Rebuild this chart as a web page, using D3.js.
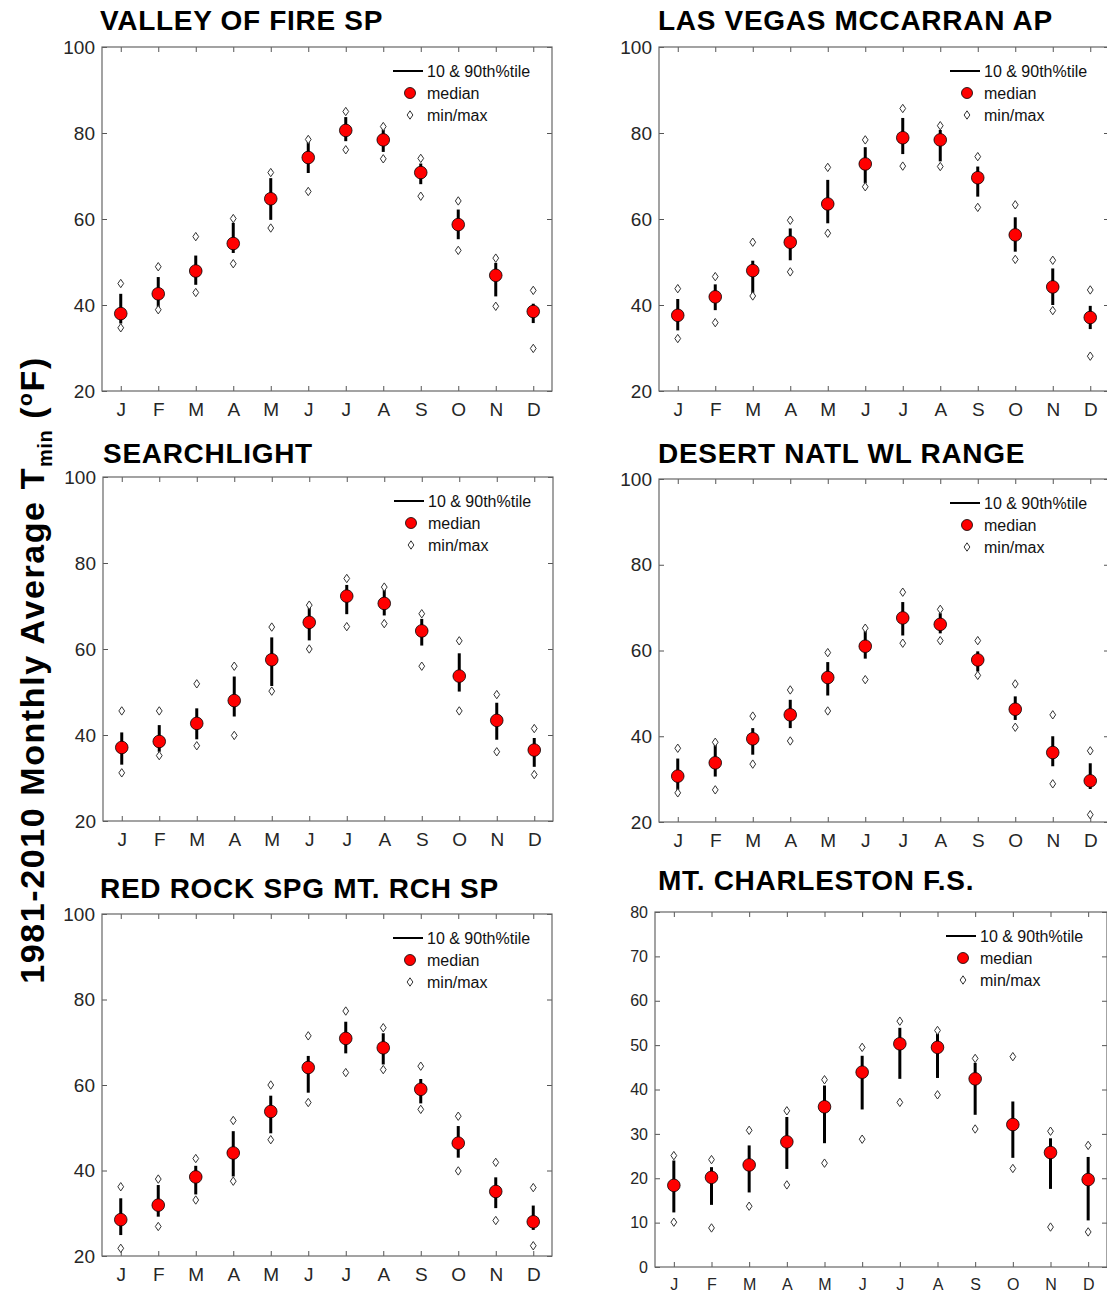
<!DOCTYPE html>
<html>
<head>
<meta charset="utf-8">
<script src="https://cdn.jsdelivr.net/npm/d3@7"></script>
<style>
	body { margin: 0; background: #fff; }
	text { font-family: "Liberation Sans", Arial, Helvetica, sans-serif; }
</style>
</head>
<body>
<div id="chart"></div>
<script>
// month labels (x categories)
var months = ["J","F","M","A","M","J","J","A","S","O","N","D"];

// station titles
var stationNames = ["VALLEY OF FIRE SP", "LAS VEGAS MCCARRAN AP", "SEARCHLIGHT",
	"DESERT NATL WL RANGE", "RED ROCK SPG MT. RCH SP", "MT. CHARLESTON F.S."];

// VALLEY OF FIRE SP
var valleyMedian = [38.0, 42.6, 47.9, 54.3, 64.7, 74.3, 80.6, 78.4, 70.8, 58.7, 46.9, 38.5];
var valleyP90    = [42.6, 46.5, 51.5, 59.1, 69.5, 77.9, 83.7, 80.8, 72.9, 62.2, 49.8, 40.3];
var valleyP10    = [35.7, 39.5, 44.7, 52.1, 59.8, 70.7, 78.1, 75.6, 68.1, 55.3, 42.0, 35.8];
var valleyMax    = [45.0, 48.9, 55.9, 60.1, 70.8, 78.5, 85.0, 81.5, 74.1, 64.2, 50.9, 43.4];
var valleyMin    = [34.7, 38.9, 42.9, 49.6, 57.9, 66.4, 76.1, 74.0, 65.3, 52.7, 39.7, 29.9];

// LAS VEGAS MCCARRAN AP
var vegasMedian = [37.6, 41.9, 48.0, 54.6, 63.5, 72.8, 78.9, 78.4, 69.6, 56.3, 44.2, 37.1];
var vegasP90    = [41.4, 44.8, 50.3, 57.8, 69.1, 76.7, 83.5, 80.7, 72.2, 60.4, 48.5, 39.8];
var vegasP10    = [34.1, 38.8, 42.7, 50.4, 59.0, 68.3, 75.1, 73.4, 65.2, 52.4, 40.0, 34.4];
var vegasMax    = [43.8, 46.6, 54.6, 59.7, 72.0, 78.4, 85.7, 81.7, 74.5, 63.3, 50.4, 43.5];
var vegasMin    = [32.2, 35.9, 42.1, 47.7, 56.7, 67.5, 72.3, 72.2, 62.7, 50.6, 38.7, 28.1];

// SEARCHLIGHT
var searchMedian = [37.1, 38.5, 42.7, 48.0, 57.5, 66.2, 72.3, 70.6, 64.2, 53.7, 43.4, 36.5];
var searchP90    = [40.6, 42.3, 46.2, 53.6, 62.7, 69.9, 74.9, 73.8, 67.0, 59.0, 47.5, 39.3];
var searchP10    = [33.1, 36.1, 39.0, 44.3, 51.4, 62.0, 68.1, 67.8, 60.8, 50.1, 38.9, 32.6];
var searchMax    = [45.6, 45.6, 51.9, 56.0, 65.1, 70.2, 76.4, 74.4, 68.2, 61.9, 49.4, 41.5];
var searchMin    = [31.2, 35.2, 37.5, 39.9, 50.2, 60.0, 65.2, 65.9, 56.0, 45.6, 36.1, 30.8];

// DESERT NATL WL RANGE
var desertMedian = [30.7, 33.8, 39.4, 45.0, 53.7, 61.0, 67.6, 66.1, 57.8, 46.3, 36.2, 29.6];
var desertP90    = [34.8, 38.6, 41.9, 48.5, 57.3, 64.6, 71.3, 68.7, 59.8, 49.3, 40.0, 33.7];
var desertP10    = [27.5, 30.6, 35.7, 41.9, 49.5, 58.1, 63.5, 64.0, 55.1, 43.8, 33.0, 27.7];
var desertMax    = [37.2, 38.6, 44.7, 50.8, 59.5, 65.2, 73.6, 69.6, 62.3, 52.2, 45.0, 36.6];
var desertMin    = [26.8, 27.5, 33.5, 38.9, 45.9, 53.2, 61.7, 62.3, 54.2, 42.1, 28.9, 21.7];

// RED ROCK SPG MT. RCH SP
var redrockMedian = [28.5, 31.9, 38.5, 44.1, 53.8, 64.1, 70.9, 68.7, 59.0, 46.4, 35.1, 28.0];
var redrockP90    = [33.5, 36.6, 41.1, 49.2, 57.5, 66.8, 74.8, 72.1, 61.4, 50.4, 38.4, 31.8];
var redrockP10    = [24.9, 29.2, 34.4, 38.6, 48.7, 58.2, 67.4, 64.8, 55.7, 43.0, 31.2, 26.1];
var redrockMax    = [36.2, 38.0, 42.8, 51.7, 60.0, 71.5, 77.3, 73.4, 64.4, 52.7, 41.9, 36.0];
var redrockMin    = [21.8, 26.9, 33.1, 37.5, 47.2, 55.9, 62.9, 63.6, 54.3, 39.9, 28.3, 22.4];

// MT. CHARLESTON F.S.
var charlestonMedian = [18.4, 20.2, 23.0, 28.2, 36.1, 43.9, 50.3, 49.5, 42.4, 32.1, 25.8, 19.7];
var charlestonP90    = [24.0, 22.5, 27.4, 33.8, 40.9, 47.6, 53.9, 52.6, 46.0, 37.3, 29.0, 24.8];
var charlestonP10    = [12.3, 14.0, 16.8, 22.1, 27.9, 35.5, 42.4, 42.6, 34.3, 24.6, 17.6, 10.5];
var charlestonMax    = [25.1, 24.2, 30.8, 35.2, 42.2, 49.5, 55.4, 53.3, 47.0, 47.4, 30.6, 27.4];
var charlestonMin    = [10.1,  8.8, 13.7, 18.5, 23.4, 28.8, 37.1, 38.8, 31.1, 22.2,  9.0,  7.9];

// y tick labels
var yTicksWarm = [20, 40, 60, 80, 100];
var yTicksCold = [0, 10, 20, 30, 40, 50, 60, 70, 80];

var legendLabels = ["10 & 90th%tile", "median", "min/max"];

// panel layout
var panels = [
	{name: stationNames[0], med: valleyMedian, p90: valleyP90, p10: valleyP10, mx: valleyMax, mn: valleyMin,
		left: 102, top: 47, w: 450, h: 344, dom: [20, 100], ticks: yTicksWarm, tx: 100, ty: 30, fs: 19},
	{name: stationNames[1], med: vegasMedian, p90: vegasP90, p10: vegasP10, mx: vegasMax, mn: vegasMin,
		left: 659, top: 47, w: 450, h: 344, dom: [20, 100], ticks: yTicksWarm, tx: 658, ty: 30, fs: 19},
	{name: stationNames[2], med: searchMedian, p90: searchP90, p10: searchP10, mx: searchMax, mn: searchMin,
		left: 103, top: 477, w: 450, h: 344, dom: [20, 100], ticks: yTicksWarm, tx: 103, ty: 463, fs: 19},
	{name: stationNames[3], med: desertMedian, p90: desertP90, p10: desertP10, mx: desertMax, mn: desertMin,
		left: 659, top: 479, w: 450, h: 343, dom: [20, 100], ticks: yTicksWarm, tx: 658, ty: 463, fs: 19},
	{name: stationNames[4], med: redrockMedian, p90: redrockP90, p10: redrockP10, mx: redrockMax, mn: redrockMin,
		left: 102, top: 914, w: 450, h: 342, dom: [20, 100], ticks: yTicksWarm, tx: 100, ty: 898, fs: 19},
	{name: stationNames[5], med: charlestonMedian, p90: charlestonP90, p10: charlestonP10, mx: charlestonMax, mn: charlestonMin,
		left: 655, top: 912, w: 452, h: 355, dom: [0, 80], ticks: yTicksCold, tx: 658, ty: 890, fs: 16}
];

var svg = d3.select("#chart")
	.append("svg")
		.attr("width", 1107)
		.attr("height", 1293);

// tall narrow diamond
var diamond = "M0,-4.2L2.9,0L0,4.2L-2.9,0Z";

function drawPanel(p) {
	var g = svg.append("g")
		.attr("transform", "translate(" + p.left + "," + p.top + ")");

	var x = d3.scaleLinear().domain([0.5, 12.5]).range([0, p.w]);
	var y = d3.scaleLinear().domain(p.dom).range([p.h, 0]);
	var idx = d3.range(12);

	// axes (ticks point inward, on all four sides)
	var xb = g.append("g")
		.attr("transform", "translate(0," + p.h + ")")
		.call(d3.axisBottom(x).tickValues(d3.range(1, 13))
			.tickFormat(function(d) { return months[d - 1]; })
			.tickSizeInner(-5).tickSizeOuter(0).tickPadding(12));
	var xt = g.append("g")
		.call(d3.axisTop(x).tickValues(d3.range(1, 13)).tickFormat("")
			.tickSizeInner(-5).tickSizeOuter(0));
	var yl = g.append("g")
		.call(d3.axisLeft(y).tickValues(p.ticks).tickFormat(d3.format("d"))
			.tickSizeInner(-5).tickSizeOuter(0).tickPadding(7));
	var yr = g.append("g")
		.attr("transform", "translate(" + p.w + ",0)")
		.call(d3.axisRight(y).tickValues(p.ticks).tickFormat("")
			.tickSizeInner(-5).tickSizeOuter(0));

	[xb, xt, yl, yr].forEach(function(a) {
		a.select(".domain").remove();
		a.selectAll(".tick line").attr("stroke", "#555");
		a.selectAll("text")
			.attr("font-size", p.fs + "px")
			.attr("font-family", "'Liberation Sans', Arial, sans-serif")
			.attr("fill", "#262626");
	});

	// frame
	g.append("rect")
		.attr("width", p.w)
		.attr("height", p.h)
		.attr("fill", "none")
		.attr("stroke", "#666")
		.attr("stroke-width", 1.2);

	// 10-90th percentile bars
	g.selectAll(".bar")
		.data(idx)
		.enter()
		.append("line")
			.attr("class", "bar")
			.attr("x1", function(i) { return x(i + 1); })
			.attr("x2", function(i) { return x(i + 1); })
			.attr("y1", function(i) { return y(p.p10[i]); })
			.attr("y2", function(i) { return y(p.p90[i]); })
			.attr("stroke", "#000")
			.attr("stroke-width", 3);

	// min and max diamonds
	[p.mx, p.mn].forEach(function(vals) {
		g.selectAll(null)
			.data(idx)
			.enter()
			.append("path")
				.attr("d", diamond)
				.attr("transform", function(i) { return "translate(" + x(i + 1) + "," + y(vals[i]) + ")"; })
				.attr("fill", "#fff")
				.attr("stroke", "#333")
				.attr("stroke-width", 1);
	});

	// medians
	g.selectAll(".med")
		.data(idx)
		.enter()
		.append("circle")
			.attr("class", "med")
			.attr("cx", function(i) { return x(i + 1); })
			.attr("cy", function(i) { return y(p.med[i]); })
			.attr("r", 6.3)
			.attr("fill", "#ff0000")
			.attr("stroke", "#000")
			.attr("stroke-width", 0.8);

	// legend
	var lg = g.append("g").attr("transform", "translate(291,24)");
	lg.append("line")
		.attr("x1", 0).attr("x2", 30)
		.attr("stroke", "#000").attr("stroke-width", 2);
	lg.append("circle")
		.attr("cx", 17).attr("cy", 22).attr("r", 5.5)
		.attr("fill", "#ff0000").attr("stroke", "#000").attr("stroke-width", 0.8);
	lg.append("path")
		.attr("d", diamond)
		.attr("transform", "translate(17,44)")
		.attr("fill", "#fff").attr("stroke", "#333");
	lg.selectAll(".lab")
		.data(legendLabels)
		.enter()
		.append("text")
			.attr("class", "lab")
			.attr("x", 34)
			.attr("y", function(d, i) { return i * 22 + 6; })
			.attr("font-size", "16px")
			.attr("fill", "#111")
			.text(function(d) { return d; });

	// station title
	svg.append("text")
		.attr("x", p.tx)
		.attr("y", p.ty)
		.attr("font-size", "28px")
		.attr("font-weight", "bold")
		.attr("letter-spacing", "0.7px")
		.attr("fill", "#000")
		.text(p.name);
}

panels.forEach(drawPanel);

// shared y label
var yTitle = svg.append("text")
	.attr("transform", "translate(44,670) rotate(-90)")
	.attr("text-anchor", "middle")
	.attr("font-size", "34px")
	.attr("font-weight", "bold")
	.attr("letter-spacing", "1.6px")
	.attr("fill", "#000");
yTitle.append("tspan").text("1981-2010 Monthly Average T");
yTitle.append("tspan").attr("dy", 8).attr("font-size", "20px").attr("letter-spacing", "0.5px").text("min");
yTitle.append("tspan").attr("dy", -8).text(" (");
yTitle.append("tspan").attr("dy", -12).attr("font-size", "21px").text("o");
yTitle.append("tspan").attr("dy", 12).text("F)");
</script>
</body>
</html>
